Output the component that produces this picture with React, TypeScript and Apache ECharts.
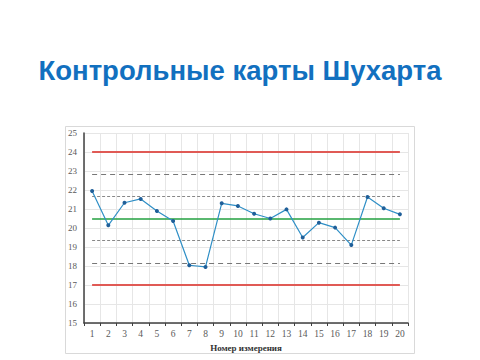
import React, { useEffect, useRef } from "react";
import * as echarts from "echarts";

const categories = ["1","2","3","4","5","6","7","8","9","10","11","12","13","14","15","16","17","18","19","20"];
const values = [21.95, 20.14, 21.33, 21.53, 20.9, 20.37, 18.04, 17.95, 21.3, 21.16, 20.75, 20.5, 20.98, 19.5, 20.28, 20.02, 19.1, 21.63, 21.04, 20.72];
const ucl = 24;
const lcl = 17;
const centerLine = 20.5;
const upper2 = 22.83;
const upper1 = 21.67;
const lower1 = 19.33;
const lower2 = 18.17;
const yTicks = { min: 15, max: 25, interval: 1 };
const title = "Контрольные карты Шухарта";
const xName = "Номер измерения";

export default function App() {
  const ref = useRef<HTMLDivElement>(null);
  useEffect(() => {
    if (!ref.current) return;
    const chart = echarts.init(ref.current, undefined, { renderer: "svg" });
    const first = categories[0];
    const last = categories[categories.length - 1];
    const hline = (v: number, color: string, width: number, type: any) => [
      { coord: [first, v], lineStyle: { color, width, type } },
      { coord: [last, v] },
    ];
    chart.setOption({
      animation: false,
      backgroundColor: "#ffffff",
      title: {
        text: title,
        left: "center",
        top: 51,
        textStyle: {
          fontFamily: "Liberation Sans, Arial, sans-serif",
          fontSize: 27.5,
          fontWeight: "bold",
          color: "#1270bf",
        },
      },
      graphic: [
        {
          type: "rect",
          shape: { x: 65.5, y: 126.5, width: 349, height: 227 },
          style: { fill: "none", stroke: "#d9d9d9", lineWidth: 1 },
          silent: true,
        },
      ],
      grid: { left: 84, right: 72, top: 133, bottom: 37, containLabel: false },
      xAxis: {
        type: "category",
        data: categories,
        boundaryGap: true,
        name: xName,
        nameLocation: "middle",
        nameGap: 20,
        nameTextStyle: {
          fontFamily: "Liberation Serif, Times New Roman, serif",
          fontSize: 9,
          fontWeight: "bold",
          color: "#333333",
        },
        axisLine: { show: true, lineStyle: { color: "#404040", width: 1.5 } },
        axisTick: { show: true, length: 3, lineStyle: { color: "#404040" } },
        axisLabel: {
          fontFamily: "Liberation Serif, Times New Roman, serif",
          fontSize: 9.5,
          color: "#595959",
          margin: 6,
        },
        splitLine: { show: true, lineStyle: { color: "#e6e6e6", width: 1 } },
      },
      yAxis: {
        type: "value",
        min: yTicks.min,
        max: yTicks.max,
        interval: yTicks.interval,
        axisLine: { show: true, lineStyle: { color: "#404040", width: 1.5 } },
        axisTick: { show: false },
        axisLabel: {
          fontFamily: "Liberation Serif, Times New Roman, serif",
          fontSize: 9,
          color: "#595959",
          margin: 7,
        },
        splitLine: { show: true, lineStyle: { color: "#e6e6e6", width: 1 } },
      },
      series: [
        {
          type: "line",
          data: values,
          symbol: "circle",
          symbolSize: 4,
          lineStyle: { color: "#2f8fc6", width: 1.2 },
          itemStyle: { color: "#1f5f99" },
          z: 5,
          markLine: {
            silent: true,
            symbol: "none",
            label: { show: false },
            z: 3,
            data: [
              hline(ucl, "#e05a55", 2, "solid"),
              hline(lcl, "#e05a55", 2, "solid"),
              hline(centerLine, "#23a040", 1.5, "solid"),
              hline(upper2, "#777777", 1.2, [5, 4]),
              hline(lower2, "#777777", 1.2, [5, 4]),
              hline(upper1, "#888888", 1.2, [3, 2]),
              hline(lower1, "#888888", 1.2, [3, 2]),
            ],
          },
        },
      ],
    });
    return () => chart.dispose();
  }, []);
  return (
    <div
      ref={ref}
      style={{ position: "fixed", left: 0, top: 0, width: 480, height: 360, background: "#fff" }}
    />
  );
}
